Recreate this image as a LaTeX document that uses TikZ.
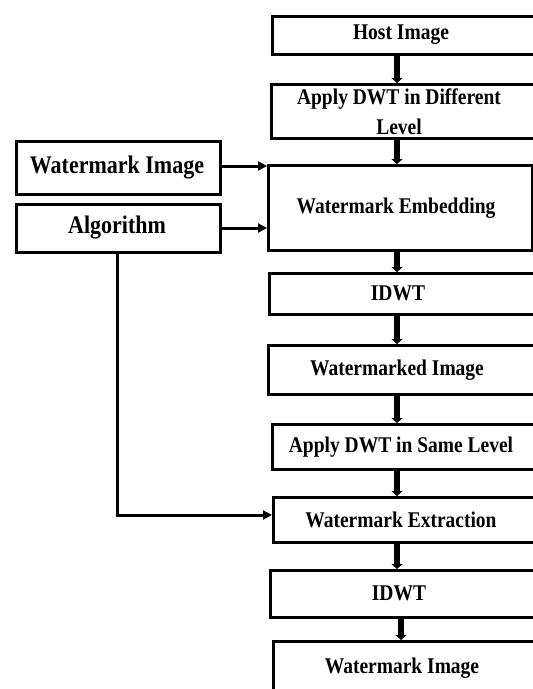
\documentclass[tikz,border=0pt]{standalone}
\usepackage{fontspec}
\setmainfont{Liberation Serif}
\usetikzlibrary{arrows.meta}

\begin{document}
\begin{tikzpicture}[x=1pt,y=-1pt,
  stage/.style={draw, line width=3pt, rectangle, inner sep=0pt, anchor=north west},
  lbl/.style={inner sep=0pt, align=center, yscale=1.15,
    font=\bfseries\fontsize{19.5}{26}\selectfont},
  lblbig/.style={lbl, font=\bfseries\fontsize{22}{26}\selectfont},
  flow/.style={line width=6pt, -{Triangle[width=11pt,length=5pt]}},
  feed/.style={line width=3pt, -{Triangle[width=9pt,length=9pt]}},
  route/.style={line width=3pt},
]
\useasboundingbox (0,0) rectangle (533,689);
\clip (0,0) rectangle (533,689);
\fill[white] (0,0) rectangle (533,689);

% right-hand column of processing stages
\node[stage, minimum width=270pt, minimum height=38pt] (host)  at (271,15)  {};
\node[stage, minimum width=270pt, minimum height=54pt] (dwtA)  at (270,83)  {};
\node[stage, minimum width=264pt, minimum height=85pt] (emb)   at (267,164) {};
\node[stage, minimum width=272pt, minimum height=41pt] (idwtA) at (268,272) {};
\node[stage, minimum width=273pt, minimum height=49pt] (wmk)   at (267,344) {};
\node[stage, minimum width=270pt, minimum height=45pt] (dwtB)  at (271,423) {};
\node[stage, minimum width=270pt, minimum height=45pt] (extr)  at (272,496) {};
\node[stage, minimum width=272pt, minimum height=47pt] (idwtB) at (269,569) {};
\node[stage, minimum width=270pt, minimum height=70pt] (out)   at (272,640) {};

% left-hand inputs
\node[stage, minimum width=204pt, minimum height=53pt] (wmin) at (15,140) {};
\node[stage, minimum width=204pt, minimum height=48pt] (algo) at (15,203) {};

% labels
\node[lbl] (hostT)  at (401,35)  {Host Image};
\node[lbl] (dwtAT)  at (399,112) {Apply DWT in Different\\Level};
\node[lbl] (embT)   at (396,208) {Watermark Embedding};
\node[lbl] (idwtAT) at (398,293) {IDWT};
\node[lbl] (wmkT)   at (397,370) {Watermarked Image};
\node[lbl] (dwtBT)  at (401,447) {Apply DWT in Same Level};
\node[lbl] (extrT)  at (401,520) {Watermark Extraction};
\node[lbl] (idwtBT) at (399,593) {IDWT};
\node[lbl] (outT)   at (402,668) {Watermark Image};
\node[lblbig] (wminT) at (117,168) {Watermark Image};
\node[lblbig] (algoT) at (117,228) {Algorithm};

% main flow
\coordinate (spine) at (397,0);
\coordinate (spineB) at (401,0);
\draw[flow] (host.south -| spine)  -- (dwtA.north -| spine);
\draw[flow] (dwtA.south -| spine)  -- (emb.north -| spine);
\draw[flow] (emb.south -| spine)   -- (idwtA.north -| spine);
\draw[flow] (idwtA.south -| spine) -- (wmk.north -| spine);
\draw[flow] (wmk.south -| spine)   -- (dwtB.north -| spine);
\draw[flow] (dwtB.south -| spine)  -- (extr.north -| spine);
\draw[flow] (extr.south -| spine)  -- (idwtB.north -| spine);
\draw[flow] (idwtB.south -| spineB) -- (out.north -| spineB);

% inputs into embedding and extraction
\coordinate (inA) at (0,166);
\coordinate (inB) at (0,228);
\coordinate (bend) at (117,515);
\draw[feed] (wmin.east |- inA) -- (emb.west |- inA);
\draw[feed] (algo.east |- inB) -- (emb.west |- inB);
\draw[route] (algo.south -| bend) -- (bend);
\draw[feed] ([xshift=-1.5pt]bend) -- (bend -| extr.west);
\end{tikzpicture}
\end{document}
